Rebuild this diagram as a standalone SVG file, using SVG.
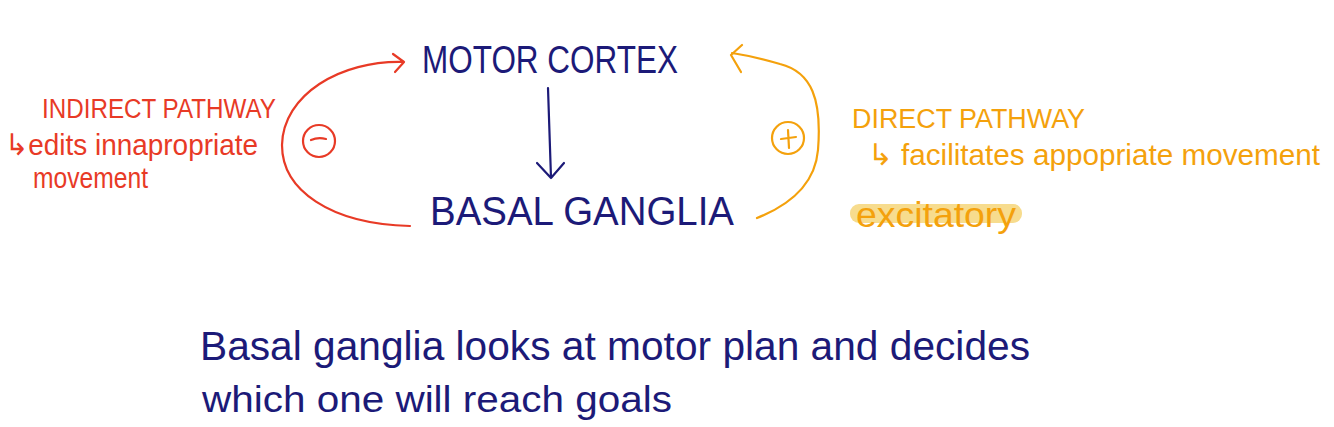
<svg xmlns="http://www.w3.org/2000/svg" width="1334" height="427" viewBox="0 0 1334 427">
<style>
.navy{fill:#1c1a78;font-family:"Liberation Sans",Arial,sans-serif}
.red{fill:#e83a26;font-family:"Liberation Sans",Arial,sans-serif}
.orange{fill:#f4a10c;font-family:"Liberation Sans",Arial,sans-serif}
.ln{fill:none;stroke-width:2.2;stroke-linecap:round;stroke-linejoin:round}
</style>
<rect width="1334" height="427" fill="#ffffff"/>
<g id="motor-cortex"><text class="navy" x="422" y="73" font-size="38" textLength="256" lengthAdjust="spacingAndGlyphs">MOTOR CORTEX</text></g>
<g id="basal-ganglia"><text class="navy" x="430" y="225" font-size="40" textLength="304" lengthAdjust="spacingAndGlyphs">BASAL  GANGLIA</text></g>
<g id="indirect-label">
<text class="red" x="42" y="118" font-size="27" textLength="234" lengthAdjust="spacingAndGlyphs">INDIRECT PATHWAY</text>
<text class="red" x="5" y="155" font-size="30" textLength="253" lengthAdjust="spacingAndGlyphs">↳edits innapropriate</text>
<text class="red" x="33" y="188" font-size="30" textLength="115" lengthAdjust="spacingAndGlyphs">movement</text>
</g>
<g id="minus"><circle cx="319" cy="141" r="16" class="ln" stroke="#e83a26"/><path d="M311 140 Q318 137 326 139" class="ln" stroke="#e83a26"/></g>
<g id="direct-label">
<text class="orange" x="852" y="128" font-size="27" textLength="233" lengthAdjust="spacingAndGlyphs">DIRECT PATHWAY</text>
<text class="orange" x="868" y="165" font-size="30" textLength="452" lengthAdjust="spacingAndGlyphs">↳ facilitates appopriate movement</text>
<rect x="850" y="204" width="172" height="19" rx="9" fill="#f7dc8e"/>
<text class="orange" x="856" y="227" font-size="35" textLength="160" lengthAdjust="spacingAndGlyphs">excitatory</text>
</g>
<g id="plus"><circle cx="788" cy="138" r="16" class="ln" stroke="#f4a10c"/><path d="M781 139 L796 137 M788 130 L789 148" class="ln" stroke="#f4a10c"/></g>
<g id="note">
<text class="navy" x="200" y="360" font-size="40" textLength="830" lengthAdjust="spacingAndGlyphs">Basal  ganglia  looks  at  motor  plan  and  decides</text>
<text class="navy" x="202" y="412" font-size="36" textLength="470" lengthAdjust="spacingAndGlyphs">which  one  will  reach  goals</text>
</g>
<g id="connectors">
<path d="M548 88 L551 178 M537 163 L551 178 L564 163" class="ln" stroke="#1c1a78"/>
<path d="M410 226 C330 224 282 190 282 145 C283 95 340 60 404 62 M393 54 L404 62 L395 72" class="ln" stroke="#e83a26"/>
<path d="M757 218 C790 205 815 185 818 150 C822 100 812 72 780 64 C760 58 745 55 732 53 M742 45 L731 55 L741 72" class="ln" stroke="#f4a10c"/>
</g>
</svg>
